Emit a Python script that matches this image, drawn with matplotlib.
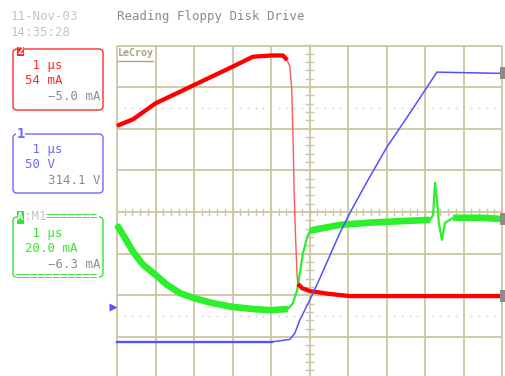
import numpy as np
import matplotlib
matplotlib.use("Agg")
import matplotlib.pyplot as plt
from matplotlib.patches import FancyBboxPatch, Rectangle

# ---- trace data (time in µs = screen divisions, amplitude in screen divisions) ----
red_t = [0.0, 0.42, 1.0, 2.0, 3.0, 3.53, 4.0, 4.31, 4.42, 4.49, 4.54, 4.58,
         4.60, 4.64, 4.68, 4.70, 4.81, 5.01, 5.53, 6.05, 10.0]
red_v = [2.07, 2.23, 2.61, 3.05, 3.49, 3.73, 3.76, 3.76, 3.65, 3.49, 2.93, 1.49,
         0.53, -0.67, -1.56, -1.73, -1.83, -1.90, -1.97, -2.02, -2.02]

grn_t = [0.0, 0.21, 0.42, 0.68, 1.0, 1.30, 1.64, 2.0, 2.49, 3.0, 3.53, 4.0,
         4.44, 4.57, 4.68, 4.75, 4.83, 4.94, 5.01, 5.27, 5.79, 6.49, 7.35,
         8.13, 8.21, 8.26, 8.31, 8.36, 8.44, 8.52, 8.73, 9.51, 10.0]
grn_v = [-0.31, -0.63, -0.96, -1.27, -1.51, -1.75, -1.95, -2.07, -2.19, -2.28,
         -2.33, -2.36, -2.33, -2.19, -1.87, -1.47, -0.99, -0.60, -0.45, -0.40,
         -0.31, -0.26, -0.22, -0.19, -0.07, 0.70, 0.29, -0.26, -0.67, -0.26,
         -0.14, -0.14, -0.17]

blu_t = [0.0, 4.03, 4.49, 4.62, 4.75, 5.01, 5.27, 5.79, 6.05, 6.52, 7.01,
         7.61, 8.31, 10.0]
blu_v = [-3.12, -3.12, -3.06, -2.91, -2.59, -2.11, -1.59, -0.50, -0.02, 0.77,
         1.56, 2.38, 3.36, 3.33]

# channel descriptor texts
date_lines = ["11-Nov-03", "14:35:28"]
title = "Reading Floppy Disk Drive"
ch2_lines = [" 1 μs", "54 mA", "−5.0 mA"]
ch1_lines = [" 1 μs", "50 V", "314.1 V"]
m1_lines = [" 1 μs", "20.0 mA", "−6.3 mA"]

# ---- colours ----
C_RED, C_RED_TXT = "#ff0000", "#ff2a2a"
C_BLU, C_BLU_TXT = "#5252ff", "#6a6aff"
C_GRN, C_GRN_TXT = "#2cf02c", "#33e633"
C_GRID = "#cbc7a3"
C_GRAY = "#8c8c8c"
C_LIGHT = "#c4c4c4"
MONO = "DejaVu Sans Mono"

W, H = 505, 376
fig = plt.figure(figsize=(W / 100, H / 100), dpi=100)
fig.patch.set_facecolor("white")

# screen geometry in pixels
X0, DX = 117.0, 38.5      # left edge, px per time division
Y0, DY = 212.0, 41.625    # centre line, px per vertical division

ax = fig.add_axes([0, 0, 1, 1])
ax.set_xlim(-X0 / DX, (W - X0) / DX)
ax.set_ylim((Y0 - H) / DY, Y0 / DY)
ax.axis("off")

# graticule
for i in range(11):
    ax.plot([i, i], [-4, 4], color=C_GRID, lw=1.3, zorder=1, solid_capstyle="butt")
for j in range(-4, 5):
    ax.plot([0, 10], [j, j], color=C_GRID, lw=1.3, zorder=1, solid_capstyle="butt")

# sub-division ticks on the centre axes
sub_y = np.arange(-4, 4.001, 0.2)
segs_x, segs_y = [], []
for t in sub_y:
    segs_x += [4.9, 5.1, np.nan]
    segs_y += [t, t, np.nan]
ax.plot(segs_x, segs_y, color=C_GRID, lw=1.0, zorder=1)
sub_x = np.arange(0, 10.001, 0.2)
segs_x, segs_y = [], []
for t in sub_x:
    segs_x += [t, t, np.nan]
    segs_y += [-0.075, 0.075, np.nan]
ax.plot(segs_x, segs_y, color=C_GRID, lw=1.0, zorder=1)

# dotted reference lines
dot_x = [k * 0.2 for k in range(1, 50) if k % 5 != 0]
for lvl in (2.5, -2.5):
    ax.plot(dot_x, [lvl] * len(dot_x), ls="none", marker="s", ms=1.1,
            mec="none", color="#c8c8c8", zorder=1)

# ---- traces ----
rt, rv = np.array(red_t), np.array(red_v)
gt, gv = np.array(grn_t), np.array(grn_v)
bt, bv = np.array(blu_t), np.array(blu_v)

# green: thin everywhere, thick noisy band on the slow parts
ax.plot(gt, gv, color=C_GRN, lw=1.6, zorder=2)
for lo, hi in [(0.0, 4.50), (5.0, 8.15), (8.55, 10.0)]:
    m = (gt >= lo) & (gt <= hi)
    ax.plot(gt[m], gv[m], color=C_GRN, lw=4.8, zorder=2, solid_capstyle="butt")

# red: thin fast edge, thick band elsewhere
ax.plot(rt, rv, color="#ff5a5a", lw=1.0, zorder=3)
for lo, hi in [(0.0, 4.45), (4.70, 10.0)]:
    m = (rt >= lo) & (rt <= hi)
    ax.plot(rt[m], rv[m], color=C_RED, lw=3.1, zorder=3, solid_capstyle="butt")

# blue
ax.plot(bt, bv, color=C_BLU, lw=1.1, zorder=4)
m = bt <= 4.05
ax.plot(bt[m], bv[m], color=C_BLU, lw=1.7, zorder=4)

# right-edge trace level markers
for v in (bv[-1], gv[-1], rv[-1]):
    ax.add_patch(Rectangle((10 - 2.5 / DX, v - 6 / DY), 5 / DX, 12 / DY,
                           facecolor=C_GRAY, edgecolor="none", zorder=5,
                           clip_on=False))

# ---- annotation layer in pixel coordinates ----
ov = fig.add_axes([0, 0, 1, 1])
ov.set_xlim(0, W)
ov.set_ylim(H, 0)
ov.axis("off")
ov.patch.set_alpha(0)

FS = 8.9
ov.text(11, 16.5, date_lines[0], color=C_LIGHT, family=MONO, fontsize=FS, va="center")
ov.text(11, 32, date_lines[1], color=C_LIGHT, family=MONO, fontsize=FS, va="center")
ov.text(117, 16.5, title, color="#8a8a8a", family=MONO, fontsize=FS, va="center")

# LeCroy logo
ov.text(118, 53.5, "LeCroy", color="#a8a47c", family=MONO, fontsize=7.2,
        weight="bold", va="center")
ov.plot([118, 153], [61, 61], color="#a8a47c", lw=1.0)

# channel boxes
def box(y0, h, col):
    ov.add_patch(FancyBboxPatch((13, y0), 90, h,
                                boxstyle="round,pad=0,rounding_size=4",
                                facecolor="none", edgecolor=col, lw=1.0))

def lines(ys, txts, col):
    ov.text(25, ys[0], txts[0], color=col, family=MONO, fontsize=FS, va="center")
    ov.text(25, ys[1], txts[1], color=col, family=MONO, fontsize=FS, va="center")
    ov.text(100, ys[2], txts[2], color=C_GRAY, family=MONO, fontsize=FS,
            va="center", ha="right")

# channel 2 (red)
box(49, 61, C_RED_TXT)
ov.add_patch(Rectangle((16.5, 46.5), 7.5, 9.5, facecolor=C_RED_TXT, edgecolor="none"))
ov.text(20.3, 51.5, "2", color="white", family=MONO, fontsize=7.5, weight="bold",
        ha="center", va="center")
lines([65, 80, 96], ch2_lines, C_RED_TXT)

# channel 1 (blue)
box(134, 59, C_BLU_TXT)
ov.text(16.5, 134, "1", color=C_BLU_TXT, family=MONO, fontsize=10, weight="bold",
        va="center", bbox=dict(facecolor="white", edgecolor="none", pad=0.3))
lines([150, 165, 180], ch1_lines, C_BLU_TXT)

# math trace M1 (green)
box(217, 60, C_GRN_TXT)
ov.add_patch(Rectangle((16.5, 211), 7.5, 13, facecolor=C_GRN_TXT, edgecolor="none"))
ov.text(20.3, 217.5, "A", color="white", family=MONO, fontsize=7.5, weight="bold",
        ha="center", va="center")
ov.text(24, 217, ":M1", color=C_LIGHT, family=MONO, fontsize=FS, va="center",
        bbox=dict(facecolor="white", edgecolor="none", pad=0))
ov.text(46, 217, "=======", color=C_GRN_TXT, family=MONO, fontsize=FS, va="center",
        bbox=dict(facecolor="white", edgecolor="none", pad=0))
ov.text(16, 277, "===========", color=C_GRN_TXT, family=MONO, fontsize=FS,
        va="center", bbox=dict(facecolor="white", edgecolor="none", pad=0))
lines([233, 249, 264], m1_lines, C_GRN_TXT)

# channel 1 offset marker
ov.plot(113, 307, marker=">", ms=6, color=C_BLU, mec="none")

fig.savefig("out.png", dpi=100)
